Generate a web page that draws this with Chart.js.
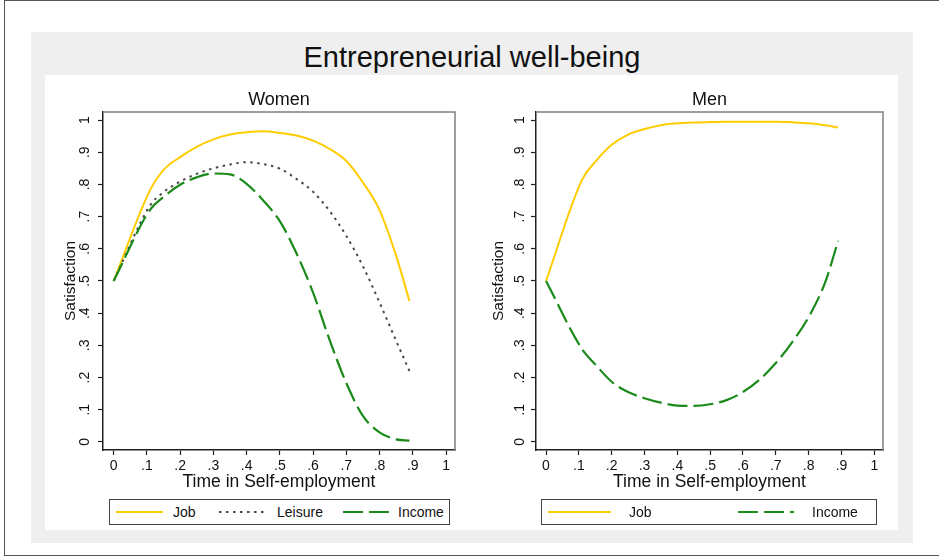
<!DOCTYPE html>
<html>
<head>
<meta charset="utf-8">
<script src="https://cdn.jsdelivr.net/npm/chart.js@4/dist/chart.umd.min.js"></script>
<style>
  html, body { margin:0; padding:0; background:#fff; width:939px; height:558px; overflow:hidden; font-family:"Liberation Sans", Arial, sans-serif; }
  #frame { position:absolute; left:4px; top:0px; width:960px; height:556px; border:1.5px solid #555; box-sizing:border-box; }
  #graybg { position:absolute; left:31px; top:32px; width:882px; height:511px; background:#efefef; }
  #whitebg { position:absolute; left:45px; top:75px; width:853px; height:455px; background:#fff; }
  #title { position:absolute; left:31px; top:41px; width:882px; text-align:center; font-size:29px; line-height:32px; color:#111; }
  canvas { position:absolute; }
  .legend { position:absolute; border:1.5px solid #444; box-sizing:border-box; background:#fff; }
  .item { position:absolute; top:0; height:100%; display:flex; align-items:center; font-size:14px; color:#111; white-space:nowrap; }
  .item svg { display:block; }
</style>
</head>
<body>
<div id="frame"></div>
<div id="graybg"></div>
<div id="whitebg"></div>
<div id="title">Entrepreneurial well-being</div>
<canvas id="cWomen" width="427" height="455" style="left:45px; top:75px;"></canvas>
<canvas id="cMen" width="427" height="455" style="left:472px; top:75px;"></canvas>
<div id="legWomen" class="legend" style="left:109px; top:499px; width:341px; height:26px;"></div>
<div id="legMen" class="legend" style="left:541px; top:499px; width:336px; height:26px;"></div>
<script>
// ---- data ----
const timePoints   = [0, 0.11, 0.15, 0.2, 0.25, 0.3, 0.35, 0.4, 0.45, 0.5, 0.55, 0.6, 0.65, 0.7, 0.75, 0.8, 0.85, 0.89];
const womenJob     = [0.50, 0.783, 0.845, 0.885, 0.917, 0.940, 0.955, 0.962, 0.965, 0.960, 0.952, 0.936, 0.910, 0.873, 0.806, 0.720, 0.578, 0.438];
const womenLeisure = [0.50, 0.735, 0.776, 0.809, 0.833, 0.850, 0.862, 0.869, 0.863, 0.849, 0.817, 0.777, 0.717, 0.640, 0.546, 0.433, 0.314, 0.220];
const womenIncome  = [0.50, 0.722, 0.761, 0.799, 0.822, 0.834, 0.831, 0.802, 0.750, 0.686, 0.586, 0.464, 0.316, 0.183, 0.081, 0.030, 0.008, 0.004];
const menJob       = [0.50, 0.815, 0.870, 0.923, 0.955, 0.972, 0.984, 0.990, 0.992, 0.994, 0.995, 0.995, 0.995, 0.995, 0.993, 0.990, 0.984, 0.977];
const menIncome    = [0.50, 0.288, 0.241, 0.187, 0.155, 0.136, 0.122, 0.113, 0.112, 0.117, 0.130, 0.155, 0.193, 0.245, 0.310, 0.388, 0.495, 0.625];
const tickValues   = [0, 0.1, 0.2, 0.3, 0.4, 0.5, 0.6, 0.7, 0.8, 0.9, 1];
const tickLabels   = ['0', '.1', '.2', '.3', '.4', '.5', '.6', '.7', '.8', '.9', '1'];
const seriesNames  = ['Job', 'Leisure', 'Income'];
const panelTitles  = ['Women', 'Men'];

Chart.defaults.font.family = '"Liberation Sans", Arial, sans-serif';
Chart.defaults.color = '#111';

const JOB = { color: '#FFCC00', dash: [], width: 2 };
const LEI = { color: '#4a4a4a', dash: [2.5, 4.5], width: 2 };
const INC = { color: '#1A8A1A', dash: [20, 6], width: 2.2 };

function toPts(arr) { return arr.map((v, i) => ({ x: timePoints[i], y: v })); }
function ds(label, arr, st, order) {
  return { label, data: toPts(arr), borderColor: st.color, backgroundColor: st.color, borderDash: st.dash,
           borderWidth: st.width, pointRadius: 0, cubicInterpolationMode: 'monotone', fill: false, order };
}

const framePlugin = {
  id: 'frame',
  afterDraw(chart) {
    const { ctx, chartArea: a } = chart;
    ctx.save();
    ctx.strokeStyle = '#808080';
    ctx.lineWidth = 1.5;
    ctx.beginPath();
    ctx.moveTo(a.left, a.top);
    ctx.lineTo(a.right, a.top);
    ctx.lineTo(a.right, a.bottom);
    ctx.stroke();
    ctx.restore();
  }
};

function makeChart(canvasId, title, datasets, cfg) {
  return new Chart(document.getElementById(canvasId), {
    type: 'line',
    data: { datasets },
    options: {
      responsive: false, animation: false, devicePixelRatio: 1,
      layout: { padding: { left: 0, right: cfg.padRight, top: 0, bottom: 36 } },
      plugins: { legend: { display: false }, tooltip: { enabled: false } },
      scales: {
        x: {
          type: 'linear', position: 'bottom', min: cfg.xmin, max: cfg.xmax,
          afterBuildTicks: s => { s.ticks = tickValues.map(v => ({ value: v })); },
          afterFit: s => { s.height = 44; },
          ticks: { callback: (v, i) => tickLabels[i], font: { size: 14 }, color: '#111', padding: 3, autoSkip: false, maxRotation: 0 },
          grid: { drawOnChartArea: false, drawTicks: true, tickLength: 5, tickColor: '#222', tickWidth: 1.2 },
          border: { display: true, color: '#222', width: 1.5 },
          title: { display: true, text: 'Time in Self-employment', font: { size: 17.5 }, color: '#111', padding: { top: 0, bottom: 1 } }
        },
        x2: {
          type: 'linear', position: 'top', display: true, min: cfg.xmin, max: cfg.xmax,
          afterFit: s => { s.height = 37; },
          ticks: { display: false }, grid: { display: false }, border: { display: false },
          title: { display: true, text: title, font: { size: 18 }, color: '#111', padding: { top: 14.2, bottom: 0 } }
        },
        y: {
          type: 'linear', position: 'left', min: -0.025, max: 1.025,
          afterBuildTicks: s => { s.ticks = tickValues.map(v => ({ value: v })); },
          afterFit: s => { s.width = cfg.yWidth; },
          ticks: { callback: (v, i) => tickLabels[i], font: { size: 14 }, color: '#111', padding: cfg.yTickPad,
                   minRotation: 90, maxRotation: 90, crossAlign: 'center', autoSkip: false },
          grid: { drawOnChartArea: false, drawTicks: true, tickLength: 5, tickColor: '#222', tickWidth: 1.2 },
          border: { display: true, color: '#222', width: 1.5 },
          title: { display: true, text: 'Satisfaction', font: { size: 15.5 }, color: '#111', padding: { top: cfg.yTitlePad, bottom: 0 } }
        }
      }
    },
    plugins: [framePlugin]
  });
}

const women = makeChart('cWomen', panelTitles[0], [
  ds(seriesNames[0], womenJob, JOB, 3),
  ds(seriesNames[1], womenLeisure, LEI, 2),
  ds(seriesNames[2], womenIncome, INC, 1)
], { xmin: -0.032, xmax: 1.027, padRight: 17, yWidth: 58, yTickPad: 7.5, yTitlePad: 16 });

const men = makeChart('cMen', panelTitles[1], [
  ds(seriesNames[0], menJob, JOB, 2),
  ds(seriesNames[2], menIncome, INC, 1)
], { xmin: -0.0305, xmax: 1.0265, padRight: 16, yWidth: 64, yTickPad: 5.5, yTitlePad: 17 });

function buildLegend(chart, el, lefts, sampleW, gaps) {
  chart.data.datasets.forEach((d, i) => {
    const item = document.createElement('div');
    item.className = 'item';
    item.style.left = lefts[i] + 'px';
    const ns = 'http://www.w3.org/2000/svg';
    const svg = document.createElementNS(ns, 'svg');
    svg.setAttribute('width', sampleW[i]); svg.setAttribute('height', 6);
    const ln = document.createElementNS(ns, 'line');
    ln.setAttribute('x1', 0); ln.setAttribute('x2', sampleW[i]);
    ln.setAttribute('y1', 3); ln.setAttribute('y2', 3);
    ln.setAttribute('stroke', d.borderColor);
    ln.setAttribute('stroke-width', d.borderWidth);
    if (d.borderDash && d.borderDash.length) ln.setAttribute('stroke-dasharray', d.borderDash.join(' '));
    svg.appendChild(ln);
    const txt = document.createElement('span');
    txt.textContent = d.label;
    txt.style.marginLeft = gaps[i] + 'px';
    item.appendChild(svg); item.appendChild(txt);
    el.appendChild(item);
  });
}
buildLegend(women, document.getElementById('legWomen'), [6, 109, 233], [47, 47, 47], [10, 11, 8]);
buildLegend(men, document.getElementById('legMen'), [6, 196], [63, 56], [18, 18]);
</script>
</body>
</html>
